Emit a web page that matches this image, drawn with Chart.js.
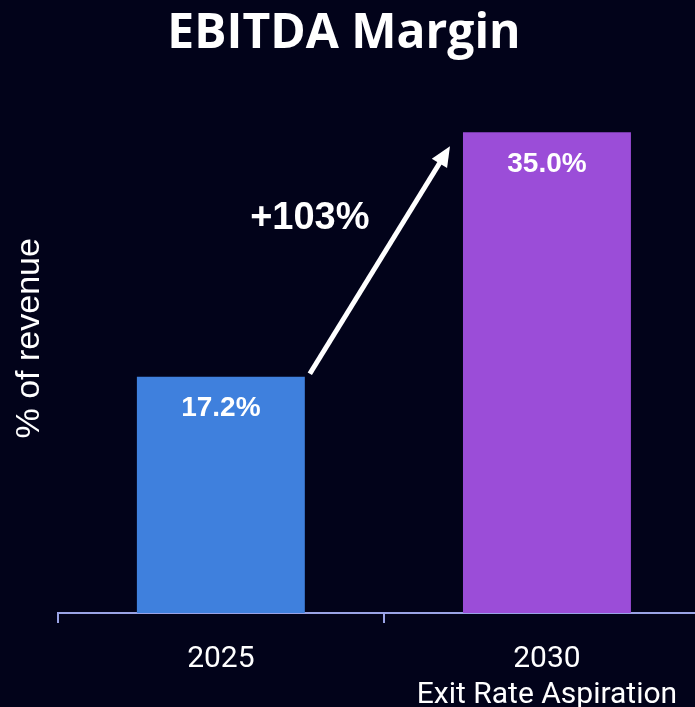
<!DOCTYPE html>
<html>
<head>
<meta charset="utf-8">
<script src="https://cdn.jsdelivr.net/npm/chart.js@4/dist/chart.umd.min.js"></script>
<style>
  html, body { margin: 0; padding: 0; background: #02031a; overflow: hidden; }
  /* canvas is wider than the window so the axis runs off the right edge like the original crop */
  #myChart { display: block; margin-left: -22px; }
</style>
</head>
<body>
<canvas id="myChart" width="734" height="707"></canvas>
<script>
var years = ['2025', '2030'];
var subLabels = ['', 'Exit Rate Aspiration'];
var margins = [17.2, 35.0];
var barColors = ['#3f80dd', '#9b4dd8'];
var growthText = '+103%';

var bg = '#02031a';
var axisColor = '#9aa3e6';

var overlay = {
  id: 'overlay',
  beforeDraw: function (chart) {
    var c = chart.ctx;
    c.save();
    c.fillStyle = bg;
    c.fillRect(0, 0, chart.width, chart.height);
    c.restore();
  },
  afterDatasetsDraw: function (chart) {
    var c = chart.ctx;
    var bars = chart.getDatasetMeta(0).data;
    var y = chart.scales.y;
    c.save();
    // value labels inside bars
    c.fillStyle = '#ffffff';
    c.font = 'bold 28px "Liberation Sans", Arial, sans-serif';
    c.textAlign = 'center';
    c.textBaseline = 'middle';
    bars.forEach(function (b, i) {
      c.fillText(margins[i].toFixed(1) + '%', b.x, b.y + 32);
    });

    // arrow from bar 1 to bar 2
    var b1 = bars[0], b2 = bars[1];
    var x1 = b1.x + b1.width / 2 + 5, y1 = b1.y - 3;
    var x2 = b2.x - b2.width / 2 - 13, y2 = b2.y + 14;
    var ang = Math.atan2(y2 - y1, x2 - x1);
    var head = 22;
    c.strokeStyle = '#ffffff';
    c.lineWidth = 5;
    c.beginPath();
    c.moveTo(x1, y1);
    c.lineTo(x2 - Math.cos(ang) * head * 0.8, y2 - Math.sin(ang) * head * 0.8);
    c.stroke();
    c.beginPath();
    c.moveTo(x2, y2);
    c.lineTo(x2 - head * Math.cos(ang - 0.42), y2 - head * Math.sin(ang - 0.42));
    c.lineTo(x2 - head * Math.cos(ang + 0.42), y2 - head * Math.sin(ang + 0.42));
    c.closePath();
    c.fillStyle = '#ffffff';
    c.fill();

    // growth label
    c.font = 'bold 38px "Liberation Sans", Arial, sans-serif';
    c.fillText(growthText, b1.x + b1.width / 2 + 5, y.getPixelForValue(28.7));
    c.restore();
  }
};

var ctx = document.getElementById('myChart').getContext('2d');
var myChart = new Chart(ctx, {
  type: 'bar',
  data: {
    labels: years.map(function (yr, i) { return subLabels[i] ? [yr, subLabels[i]] : yr; }),
    datasets: [{
      label: 'EBITDA margin',
      data: margins,
      backgroundColor: barColors,
      borderWidth: 0,
      categoryPercentage: 1,
      barPercentage: 0.515
    }]
  },
  options: {
    responsive: false,
    animation: false,
    layout: { padding: { left: 0, right: 2, top: 0, bottom: -24 } },
    plugins: {
      legend: { display: false },
      tooltip: { enabled: false },
      title: {
        display: true,
        text: 'EBITDA Margin',
        color: '#ffffff',
        font: { family: '"Open Sans", "Noto Sans", sans-serif', size: 48, weight: 'bold' },
        padding: { top: 6, bottom: 0 }
      }
    },
    scales: {
      x: {
        border: { display: true, color: axisColor, width: 2 },
        grid: { display: true, drawOnChartArea: false, tickLength: 10, color: axisColor, lineWidth: 2 },
        ticks: {
          color: '#ffffff',
          padding: 18,
          maxRotation: 0,
          font: { family: 'Roboto, sans-serif', size: 30, lineHeight: 1.2 }
        }
      },
      y: {
        min: 0,
        max: 40,
        border: { display: false },
        grid: { display: false },
        ticks: { display: false },
        title: {
          display: true,
          text: '% of revenue',
          color: '#ffffff',
          font: { family: '"Liberation Sans", Arial, sans-serif', size: 34 },
          padding: { top: 31, bottom: 0 }
        }
      }
    }
  },
  plugins: [overlay]
});
</script>
</body>
</html>
